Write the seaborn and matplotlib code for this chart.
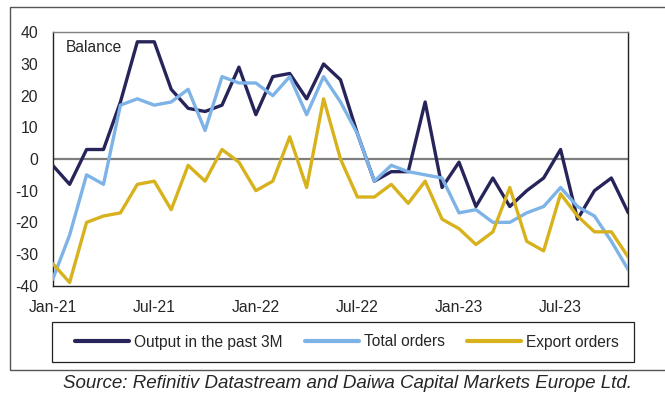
import matplotlib
matplotlib.use("Agg")
import matplotlib.pyplot as plt
import seaborn as sns
import pandas as pd
import numpy as np
from matplotlib.patches import Rectangle

months = pd.date_range("2021-01-01", "2023-11-01", freq="MS")
month_labels = [d.strftime("%b-%y") for d in months]

output_3m = [-2, -8, 3, 3, 18, 37, 37, 22, 16, 15, 17, 29, 14, 26, 27, 19, 30, 25,
             8, -7, -4, -4, 18, -9, -1, -15, -6, -15, -10, -6, 3, -19, -10, -6, -17]
total_orders = [-38, -24, -5, -8, 17, 19, 17, 18, 22, 9, 26, 24, 24, 20, 26, 14, 26, 18,
                8, -7, -2, -4, -5, -6, -17, -16, -20, -20, -17, -15, -9, -15, -18, -26, -35]
export_orders = [-33, -39, -20, -18, -17, -8, -7, -16, -2, -7, 3, -1, -10, -7, 7, -9, 19, 0,
                 -12, -12, -8, -14, -7, -19, -22, -27, -23, -9, -26, -29, -11, -18, -23, -23, -31]

series_names = ["Output in the past 3M", "Total orders", "Export orders"]
colors = ["#27245a", "#7db3e6", "#d8b21d"]
tick_months = ["Jan-21", "Jul-21", "Jan-22", "Jul-22", "Jan-23", "Jul-23"]

idx = np.arange(len(months))
df = pd.concat([
    pd.DataFrame({"m": idx, "value": vals, "series": name})
    for name, vals in zip(series_names, [output_3m, total_orders, export_orders])
])

sns.set_style("white")
plt.rcParams["font.family"] = ["Liberation Sans", "DejaVu Sans"]

W, H = 665, 394
fig = plt.figure(figsize=(W / 100, H / 100), dpi=100)
ax = fig.add_axes([52.7 / W, 1 - 285.7 / H, (628.3 - 52.7) / W, (285.7 - 32.3) / H])

ax.axhline(0, color="#7f7f7f", lw=1.6, zorder=1)
sns.lineplot(data=df, x="m", y="value", hue="series", palette=colors,
             hue_order=series_names, lw=2.4, ax=ax, legend=False, zorder=3)

ax.set_xlim(0, len(months) - 1)
ax.set_ylim(-40, 40)
ax.set_yticks(range(-40, 41, 10))
ax.set_yticklabels([str(v) for v in range(-40, 41, 10)], fontsize=11.3)
tick_pos = [month_labels.index(t) for t in tick_months]
ax.set_xticks(tick_pos)
ax.set_xticklabels(tick_months, fontsize=11.3)
ax.tick_params(axis="y", length=0, pad=10.5)
ax.tick_params(axis="x", length=0, pad=10)
ax.set_xlabel("")
ax.set_ylabel("")
for side, sp in ax.spines.items():
    sp.set_visible(True)
    sp.set_linewidth(1.0)
    sp.set_color("#222222")
ax.spines["top"].set_color("#808080")

fig.text(66 / W, 1 - 48 / H, "Balance", fontsize=11.2, va="center", ha="left")

# legend box
fig.patches.append(Rectangle((52 / W, 1 - 362 / H), (634 - 52) / W, 40 / H,
                             transform=fig.transFigure, fill=False,
                             edgecolor="#222222", lw=0.9))
handles = [plt.Line2D([], [], color=c, lw=3) for c in colors]
fig.legend(handles, series_names, loc="center",
           bbox_to_anchor=(347 / W, 1 - 342 / H), ncol=3, frameon=False,
           fontsize=11.2, handlelength=3.5, handletextpad=0.33,
           columnspacing=1.4, borderpad=0, borderaxespad=0)

fig.text(632 / W, 1 - 383 / H,
         "Source: Refinitiv Datastream and Daiwa Capital Markets Europe Ltd.",
         fontsize=13.5, style="italic", ha="right", va="center")

fig.patches.append(Rectangle((10 / W, 1 - 370 / H), 1.0, (370 - 7) / H,
                             transform=fig.transFigure, fill=False,
                             edgecolor="#555555", lw=1.0))

fig.savefig("out.png", dpi=100)
